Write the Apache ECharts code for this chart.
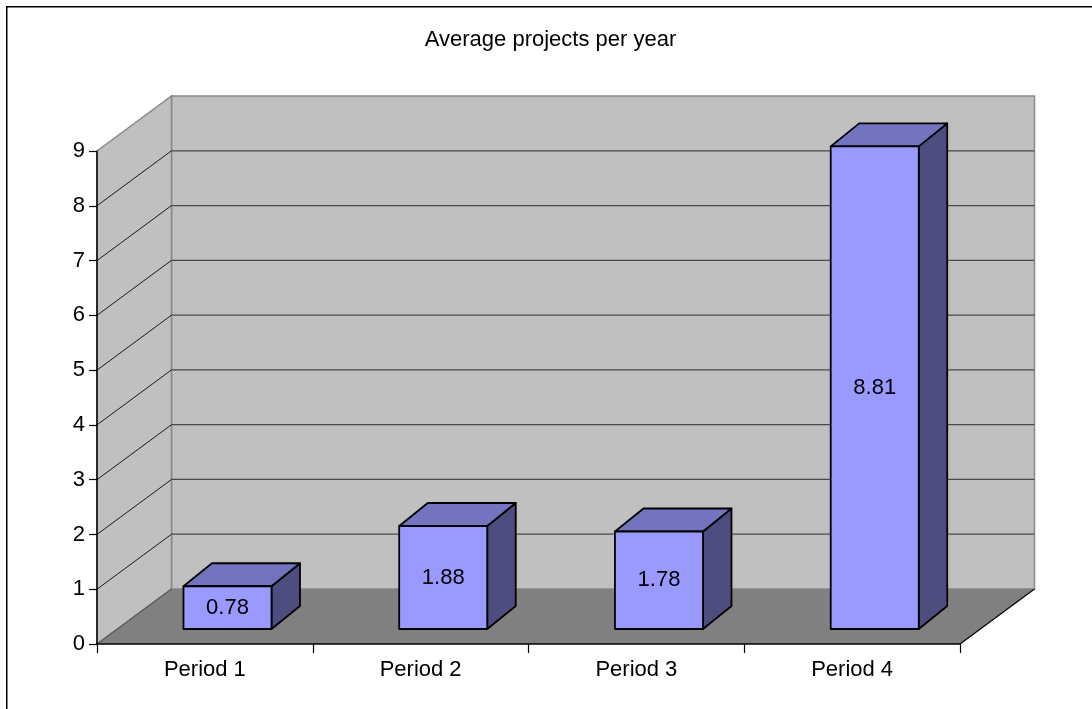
<!DOCTYPE html>
<html>
<head>
<meta charset="utf-8">
<title>Average projects per year</title>
<script src="https://cdn.jsdelivr.net/npm/echarts@6/dist/echarts.min.js"></script>
<style>
  html, body { margin: 0; padding: 0; background: #ffffff; }
  #chart { width: 1092px; height: 709px; }
</style>
</head>
<body>
<div id="chart"></div>
<script>
// Chart data
const titleText = 'Average projects per year';
const categories = ['Period 1', 'Period 2', 'Period 3', 'Period 4'];
const projectsPerYear = [0.78, 1.88, 1.78, 8.81];
const yMin = 0;
const yMax = 9;
const yStep = 1;

// Oblique 3D projection settings (pixels)
const WALL_DEPTH = [74.5, -55];   // offset from the front plane to the back wall
const BAR_SHIFT = [22.6, -15];    // bar front face sits slightly behind the front plane
const BAR_DEPTH = [28.5, -23];    // bar thickness
const BAR_WIDTH_RATIO = 0.408;    // share of the category band

const FONT = '"Liberation Sans", Arial, Helvetica, sans-serif';

const chart = echarts.init(document.getElementById('chart'), null, { renderer: 'canvas' });

// Walls, floor and gridlines of the 3D box
function renderWalls(params, api) {
  const cs = params.coordSys;
  const left = cs.x, right = cs.x + cs.width;
  const dx = WALL_DEPTH[0], dy = WALL_DEPTH[1];
  const y0 = api.coord([0, yMin])[1];
  const yTop = api.coord([0, yMax])[1];
  const children = [];

  // back wall
  children.push({
    type: 'rect',
    shape: { x: left + dx, y: yTop + dy, width: right - left, height: y0 - yTop },
    style: { fill: '#c0c0c0', stroke: '#888888', lineWidth: 1.5 }
  });
  // side wall
  children.push({
    type: 'polygon',
    shape: { points: [[left, yTop], [left + dx, yTop + dy], [left + dx, y0 + dy], [left, y0]] },
    style: { fill: '#c0c0c0', stroke: '#888888', lineWidth: 1.5 }
  });
  // gridlines: back wall horizontals and side wall diagonals
  for (let v = yMin + yStep; v < yMax; v += yStep) {
    const y = api.coord([0, v])[1];
    children.push({
      type: 'line',
      shape: { x1: left + dx, y1: y + dy, x2: right + dx, y2: y + dy },
      style: { stroke: '#4a4a4a', lineWidth: 1.2 }
    });
    children.push({
      type: 'line',
      shape: { x1: left, y1: y, x2: left + dx, y2: y + dy },
      style: { stroke: '#1a1a1a', lineWidth: 1 }
    });
  }
  // floor
  children.push({
    type: 'polygon',
    shape: { points: [[left, y0], [right, y0], [right + dx, y0 + dy], [left + dx, y0 + dy]] },
    style: { fill: '#808080', stroke: null }
  });
  children.push({
    type: 'line',
    shape: { x1: left, y1: y0, x2: left + dx, y2: y0 + dy },
    style: { stroke: '#5a5a5a', lineWidth: 1.2 }
  });
  children.push({
    type: 'line',
    shape: { x1: right, y1: y0, x2: right + dx, y2: y0 + dy },
    style: { stroke: '#000000', lineWidth: 1.2 }
  });
  return { type: 'group', children: children };
}

// 3D boxes with the value written on the front face
function renderBar(params, api) {
  const idx = api.value(0);
  const val = api.value(1);
  const base = api.coord([idx, yMin]);
  const top = api.coord([idx, val]);
  const band = api.size([1, 0])[0];
  const w = band * BAR_WIDTH_RATIO;
  const cx = base[0] + BAR_SHIFT[0];
  const x0 = cx - w / 2, x1 = cx + w / 2;
  const yb = base[1] + BAR_SHIFT[1];
  const yt = top[1] + BAR_SHIFT[1];
  const dx = BAR_DEPTH[0], dy = BAR_DEPTH[1];
  const edge = { stroke: '#000000', lineWidth: 1.8, lineJoin: 'round' };
  return {
    type: 'group',
    children: [
      {
        type: 'polygon',
        shape: { points: [[x1, yt], [x1 + dx, yt + dy], [x1 + dx, yb + dy], [x1, yb]] },
        style: Object.assign({ fill: '#4d4d80' }, edge)
      },
      {
        type: 'polygon',
        shape: { points: [[x0, yt], [x0 + dx, yt + dy], [x1 + dx, yt + dy], [x1, yt]] },
        style: Object.assign({ fill: '#7373bf' }, edge)
      },
      {
        type: 'rect',
        shape: { x: x0, y: yt, width: w, height: yb - yt },
        style: Object.assign({ fill: '#9999ff' }, edge)
      },
      {
        type: 'text',
        style: {
          text: String(val),
          x: cx, y: (yt + yb) / 2,
          align: 'center', verticalAlign: 'middle',
          fontFamily: FONT, fontSize: 22, fill: '#000000'
        }
      }
    ]
  };
}

const barData = categories.map((c, i) => [i, projectsPerYear[i]]);

chart.setOption({
  animation: false,
  backgroundColor: '#ffffff',
  graphic: [
    {
      type: 'rect',
      shape: { x: 6.75, y: 6.75, width: 2000, height: 2000 },
      style: { fill: null, stroke: '#000000', lineWidth: 1.5 },
      z: 100
    },
    {
      type: 'text',
      x: 550.5, y: 40,
      style: {
        text: titleText,
        align: 'center', verticalAlign: 'middle',
        fontFamily: FONT, fontSize: 22, fill: '#000000'
      },
      z: 100
    }
  ],
  grid: { left: 97, right: 132, top: 151, bottom: 65, containLabel: false },
  xAxis: {
    type: 'category',
    data: categories,
    boundaryGap: true,
    z: 10,
    axisLine: { show: true, lineStyle: { color: '#000000', width: 1.5 } },
    axisTick: { show: true, length: 9, lineStyle: { color: '#000000', width: 1.2 } },
    axisLabel: { fontFamily: FONT, fontSize: 22, color: '#000000', margin: 15 },
    splitLine: { show: false }
  },
  yAxis: {
    type: 'value',
    min: yMin, max: yMax, interval: yStep,
    z: 10,
    axisLine: { show: true, lineStyle: { color: '#000000', width: 1.5 } },
    axisTick: { show: true, length: 8, lineStyle: { color: '#000000', width: 1.2 } },
    axisLabel: { fontFamily: FONT, fontSize: 22, color: '#000000', margin: 12 },
    splitLine: { show: false }
  },
  series: [
    {
      type: 'custom',
      name: 'walls',
      renderItem: renderWalls,
      data: [[0, 0]],
      z: 1,
      silent: true
    },
    {
      type: 'custom',
      name: titleText,
      renderItem: renderBar,
      data: barData,
      z: 3
    }
  ]
});
</script>
</body>
</html>
